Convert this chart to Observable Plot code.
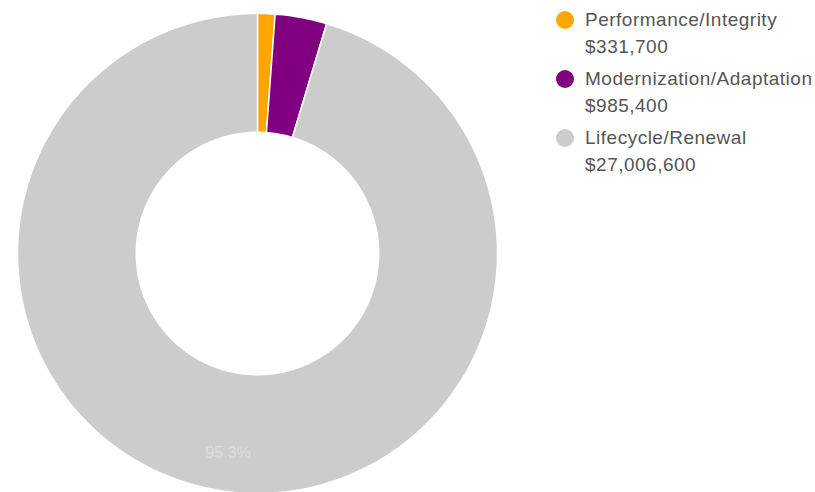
<!DOCTYPE html>
<html>
<head>
<meta charset="utf-8">
<script src="https://cdn.jsdelivr.net/npm/d3@7"></script>
<script src="https://cdn.jsdelivr.net/npm/@observablehq/plot@0.6"></script>
<style>
  body { margin: 0; background: #fff; font-family: Arial, "Liberation Sans", sans-serif; }
  #wrap { position: relative; width: 815px; height: 492px; overflow: hidden; }
  #legend { position: absolute; left: 555px; top: 6px; color: #555; font-size: 19px; letter-spacing: 0.5px; white-space: nowrap; }
  .item { position: relative; padding-left: 30px; height: 59px; line-height: 27px; }
  .sw { position: absolute; left: 1px; top: 5px; width: 18px; height: 18px; border-radius: 50%; }
</style>
</head>
<body>
<div id="wrap"><div id="legend"></div></div>
<script>
const categories = ["Performance/Integrity", "Modernization/Adaptation", "Lifecycle/Renewal"];
const values = [331700, 985400, 27006600];
const amountLabels = ["$331,700", "$985,400", "$27,006,600"];
const colors = ["#FFA500", "#800080", "#CCCCCC"];

const total = d3.sum(values);
const arcs = d3.pie().sort(null)(values);
const inner = 0.505;
const points = [];
arcs.forEach((a, i) => {
  const n = Math.max(4, Math.ceil((a.endAngle - a.startAngle) * 180 / Math.PI));
  for (let k = 0; k <= n; k++) {
    const t = a.startAngle + (a.endAngle - a.startAngle) * k / n;
    points.push({cat: categories[i], x: Math.sin(t), y: Math.cos(t)});
  }
  for (let k = n; k >= 0; k--) {
    const t = a.startAngle + (a.endAngle - a.startAngle) * k / n;
    points.push({cat: categories[i], x: inner * Math.sin(t), y: inner * Math.cos(t)});
  }
});

const labels = arcs.map((a, i) => {
  const m = (a.startAngle + a.endAngle) / 2;
  return {cat: categories[i], pct: values[i] / total, x: 0.84 * Math.sin(m), y: 0.84 * Math.cos(m)};
}).filter(d => d.pct > 0.1);

const svg = Plot.plot({
  width: 815,
  height: 492,
  margin: 0,
  x: {domain: [-1, 1], range: [17, 497], axis: null},
  y: {domain: [-1, 1], range: [493, 13], axis: null},
  color: {domain: categories, range: colors},
  marks: [
    Plot.line(points, {x: "x", y: "y", z: "cat", fill: "cat", stroke: "white", strokeWidth: 1.5, curve: "linear-closed"}),
    Plot.text(labels, {x: "x", y: "y", text: d => (d.pct * 100).toFixed(1) + "%", fill: "#dedede", fontSize: 16, fontFamily: "Arial, Liberation Sans, sans-serif"})
  ]
});
document.getElementById("wrap").prepend(svg);

const legend = document.getElementById("legend");
categories.forEach((c, i) => {
  const it = document.createElement("div");
  it.className = "item";
  it.innerHTML = `<span class="sw" style="background:${colors[i]}"></span>${c}<br>${amountLabels[i]}`;
  legend.appendChild(it);
});
</script>
</body>
</html>
